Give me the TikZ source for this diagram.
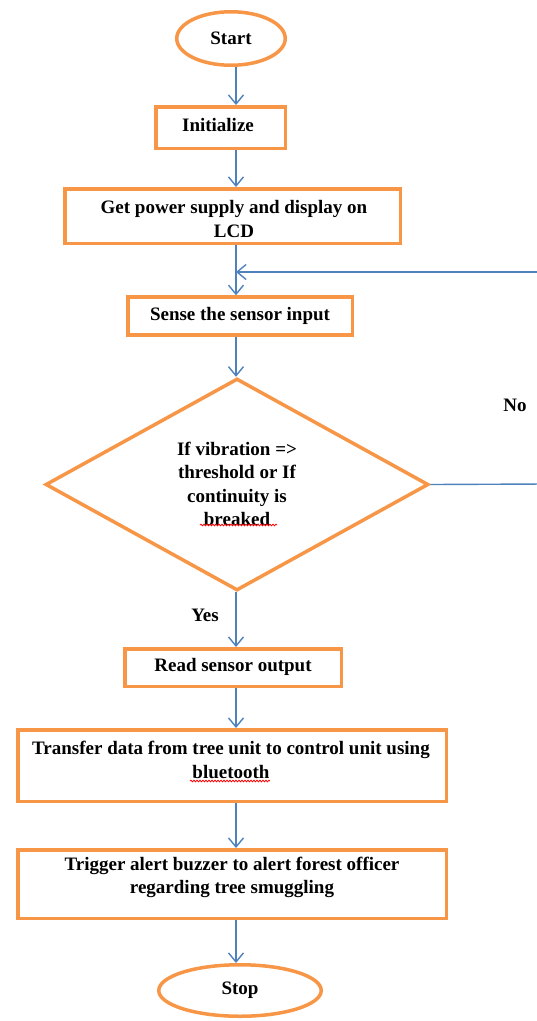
\documentclass[tikz,border=0pt]{standalone}
\usepackage{fontspec}
\setmainfont{Liberation Serif}
\usetikzlibrary{shapes.geometric,arrows.meta,decorations.pathmorphing}
\definecolor{boxorange}{HTML}{F79646}
\definecolor{arrowblue}{HTML}{4F81BD}
\begin{document}
\begin{tikzpicture}[x=1pt,y=-1pt,
  box/.style={draw=boxorange,line width=3.5pt,rectangle,inner sep=0pt},
  oval/.style={draw=boxorange,line width=3.5pt,ellipse,inner sep=0pt},
  dec/.style={draw=boxorange,line width=3.5pt,diamond,inner sep=0pt,aspect=1.8},
  txt/.style={font=\fontsize{19}{23.5}\selectfont\bfseries,align=center,inner sep=0pt},
  arr/.style={draw=arrowblue,line width=1.4pt,-{Straight Barb[length=9pt,width=15pt,line width=1.4pt]}},
  flow/.style={draw=arrowblue,line width=1.4pt},
  spell/.style={draw=red,line width=0.8pt,decorate,decoration={snake,amplitude=0.8pt,segment length=3pt}}]
\useasboundingbox (0,0) rectangle (537,1021);
\coordinate (col) at (236,0);
% nodes
\node[oval,minimum width=108.5pt,minimum height=53.5pt] (start) at (231,38.5) {};
\node[txt] (tstart) at (231,38) {Start};
\node[box,minimum width=129.5pt,minimum height=41.5pt] (init) at (220.5,127.5) {};
\node[txt] (tinit) at (218,125) {Initialize};
\node[box,minimum width=335.5pt,minimum height=54.5pt] (power) at (232.5,216) {};
\node[txt] (tpower) at (234,219) {Get power supply and display on\\LCD};
\node[box,minimum width=224.5pt,minimum height=38pt] (sense) at (240,316) {};
\node[txt] (tsense) at (240,316) {Sense the sensor input};
\node[dec,minimum width=383pt,minimum height=212pt] (cond) at (237,484.5) {};
\node[txt] (tcond) at (237,484) {If vibration =>\\threshold or If\\continuity is\\breaked};
\node[box,minimum width=216.5pt,minimum height=37.5pt] (read) at (233,667.5) {};
\node[txt] (tread) at (233,667) {Read sensor output};
\node[box,minimum width=428.5pt,minimum height=71.5pt] (transfer) at (232,765.5) {};
\node[txt] (ttransfer) at (231,760) {Transfer data from tree unit to control unit using\\bluetooth};
\node[box,minimum width=428.5pt,minimum height=68.5pt] (trigger) at (232,884) {};
\node[txt] (ttrigger) at (232,877.5) {Trigger alert buzzer to alert forest officer\\regarding tree smuggling};
\node[oval,minimum width=162.5pt,minimum height=51.5pt] (stop) at (240,990.5) {};
\node[txt] (tstop) at (240,990) {Stop};
\node[txt] (tno) at (515,405) {No};
\node[txt] (tyes) at (205,615) {Yes};
% spelling underlines
\coordinate (sp1a) at (200,525);
\coordinate (sp1b) at (277,525);
\coordinate (sp2a) at (190,781);
\coordinate (sp2b) at (270,781);
\draw[spell] (sp1a) -- (sp1b);
\draw[spell] (sp2a) -- (sp2b);
% connectors
\coordinate (join) at (236,272);
\coordinate (farA) at (545,484);
\coordinate (farB) at (545,272);
\draw[arr] (start.south -| col) -- (init.north -| col);
\draw[arr] (init.south -| col) -- (power.north -| col);
\draw[arr] (power.south -| col) -- (sense.north -| col);
\draw[arr] (sense.south -| col) -- (cond.north -| col);
\draw[arr] (cond.south -| col) -- (read.north -| col);
\draw[arr] (read.south -| col) -- (transfer.north -| col);
\draw[arr] (transfer.south -| col) -- (trigger.north -| col);
\draw[arr] (trigger.south -| col) -- (stop.north -| col);
\draw[flow] (cond.east) -- (farA) -- (farB);
\draw[arr] (farB) -- (join);
\end{tikzpicture}
\end{document}
